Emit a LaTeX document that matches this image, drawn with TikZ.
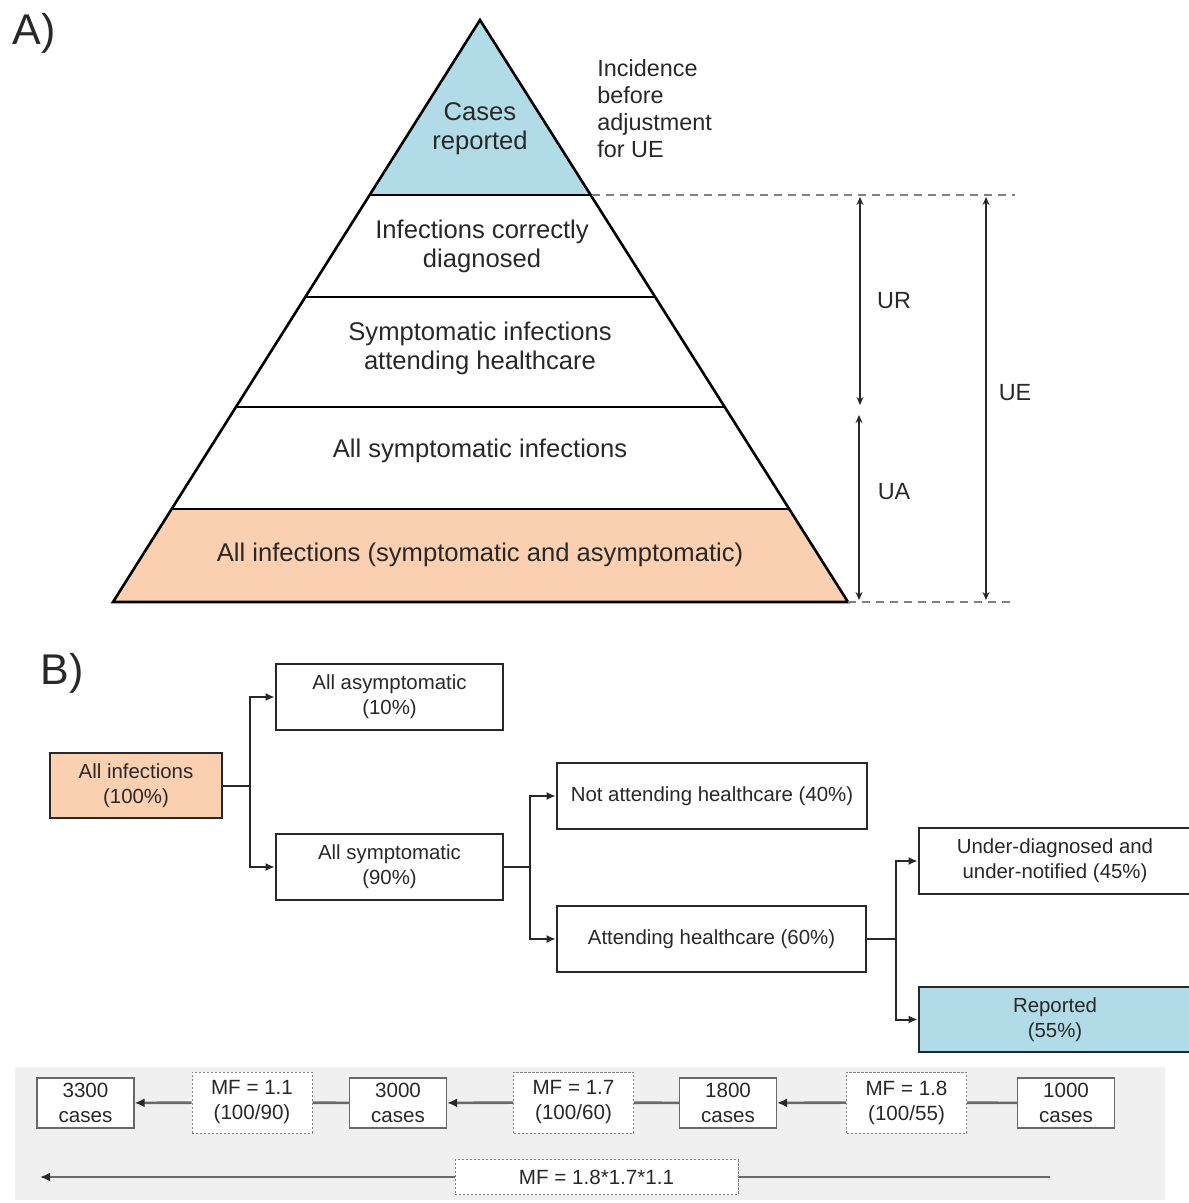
\documentclass[tikz,border=0pt]{standalone}
\usepackage{fontspec}
\setmainfont{Liberation Sans}
\usetikzlibrary{arrows.meta}
\definecolor{pblue}{RGB}{178,219,232}
\definecolor{peach}{RGB}{250,208,176}
\definecolor{txt}{RGB}{40,40,40}
\definecolor{stripbg}{RGB}{240,240,240}
\definecolor{lgray}{RGB}{105,105,105}
\begin{document}
\begin{tikzpicture}[x=0.5pt,y=-0.5pt,
  every node/.style={text=txt, inner sep=0pt},
  pyrtext/.style={font=\fontsize{12.8}{14.5}\selectfont, align=center},
  sidetext/.style={font=\fontsize{11.7}{13.5}\selectfont, align=left, anchor=north west},
  panel/.style={font=\fontsize{21.5}{24}\selectfont},
  dimarrow/.style={draw=txt, line width=0.7pt, {Stealth[length=4pt,width=3.5pt]}-{Stealth[length=4pt,width=3.5pt]}},
  guide/.style={draw=gray, line width=0.8pt, dash pattern=on 4pt off 3pt},
  bbox/.style={draw=txt, line width=1.3pt, fill=white, align=center, font=\fontsize{10.2}{12.5}\selectfont},
  conn/.style={draw=txt, line width=1pt},
  tip/.style={-{Latex[length=4.5pt,width=4pt]}},
  casebox/.style={draw=lgray, line width=0.6pt, fill=white, align=center, font=\fontsize{10.3}{12.5}\selectfont, minimum width=48.5pt, minimum height=25pt},
  mfbox/.style={draw=gray, line width=0.5pt, dash pattern=on 1.2pt off 0.8pt, fill=white, align=center, font=\fontsize{10.3}{12.5}\selectfont},
  sline/.style={draw=lgray, line width=1.3pt},
  stip/.style={-{Latex[length=5pt,width=4.5pt,color=txt]}}
]
\useasboundingbox (0,0) rectangle (1188,1203);

% ---------------- Part A: pyramid ----------------
\node[panel] (labA) at (34,33) {A)};
\fill[pblue] (480,20) -- (590.6,195) -- (369.6,195) -- cycle;
\fill[peach] (171.6,509) -- (789.2,509) -- (848,602) -- (113,602) -- cycle;
\draw[line width=1.3pt, line join=miter] (480,20) -- (848,602) -- (113,602) -- cycle;
\draw[line width=1.3pt] (369.6,195) -- (590.6,195);
\draw[line width=1.3pt] (305.3,297) -- (655.1,297);
\draw[line width=1.3pt] (236.0,407) -- (724.7,407);
\draw[line width=1.3pt] (171.6,509) -- (789.2,509);

\node[pyrtext] (lev1) at (480,129) {Cases\\reported};
\node[pyrtext] (lev2) at (482,246) {Infections correctly\\diagnosed};
\node[pyrtext] (lev3) at (480,348) {Symptomatic infections\\attending healthcare};
\node[pyrtext] (lev4) at (480,451) {All symptomatic infections};
\node[pyrtext] (lev5) at (480,555) {All infections (symptomatic and asymptomatic)};

\node[sidetext] (inc) at (597,59) {Incidence\\before\\adjustment\\for UE};

\draw[guide] (592,195) -- (1015,195);
\draw[guide] (848,602) -- (1015,602);

\coordinate (urTop) at (860,197);
\coordinate (urBot) at (860,405);
\coordinate (uaTop) at (859,415);
\coordinate (uaBot) at (859,600);
\coordinate (ueTop) at (986,197);
\coordinate (ueBot) at (986,600);
\draw[dimarrow] (urTop) -- (urBot);
\draw[dimarrow] (uaTop) -- (uaBot);
\draw[dimarrow] (ueTop) -- (ueBot);
\node[font=\fontsize{11.7}{13.5}\selectfont] (ur) at (894,301) {UR};
\node[font=\fontsize{11.7}{13.5}\selectfont] (ua) at (894,492) {UA};
\node[font=\fontsize{11.7}{13.5}\selectfont] (ue) at (1015,393) {UE};

% ---------------- Part B: tree ----------------
\node[panel] (labB) at (62,673) {B)};
\node[bbox, fill=peach, minimum width=86pt, minimum height=32.5pt] (inf) at (136,785.5) {All infections\\(100\%)};
\node[bbox, minimum width=113.5pt, minimum height=33pt] (asym) at (389.5,697) {All asymptomatic\\(10\%)};
\node[bbox, minimum width=113.5pt, minimum height=33pt] (sym) at (389.5,867) {All symptomatic\\(90\%)};
\node[bbox, minimum width=155pt, minimum height=33pt] (notatt) at (712,796) {Not attending healthcare (40\%)};
\node[bbox, minimum width=154.5pt, minimum height=33pt] (att) at (711.5,939) {Attending healthcare (60\%)};
\node[bbox, minimum width=136pt, minimum height=33pt] (under) at (1055,861) {Under-diagnosed and\\under-notified (45\%)};
\node[bbox, fill=pblue, minimum width=136pt, minimum height=32.5pt] (rep) at (1055,1019.5) {Reported\\(55\%)};

\coordinate (j1) at (250,785.5);
\coordinate (j2) at (530,867);
\coordinate (j3) at (896,939);
\draw[conn] (inf.east) -- (j1);
\draw[conn, tip] (j1) |- (asym.west);
\draw[conn, tip] (j1) |- (sym.west);
\draw[conn] (sym.east) -- (j2);
\draw[conn, tip] (j2) |- (notatt.west);
\draw[conn, tip] (j2) |- (att.west);
\draw[conn] (att.east) -- (j3);
\draw[conn, tip] (j3) |- (under.west);
\draw[conn, tip] (j3) |- (rep.west);

% ---------------- Bottom strip ----------------
\fill[stripbg] (15,1067) rectangle (1165,1200);
\node[casebox] (c3300) at (85.5,1103) {3300\\cases};
\node[casebox] (c3000) at (398,1103) {3000\\cases};
\node[casebox] (c1800) at (728,1103) {1800\\cases};
\node[casebox] (c1000) at (1066,1103) {1000\\cases};
\node[mfbox, minimum width=60pt, minimum height=30.5pt] (mf11) at (252,1102.5) {MF = 1.1\\(100/90)};
\node[mfbox, minimum width=60pt, minimum height=30.5pt] (mf17) at (573.5,1102.5) {MF = 1.7\\(100/60)};
\node[mfbox, minimum width=60pt, minimum height=30.5pt] (mf18) at (906.5,1102.5) {MF = 1.8\\(100/55)};
\draw[sline] (c1000) -- (mf18);
\draw[sline, stip] (mf18) -- (c1800);
\draw[sline] (c1800) -- (mf17);
\draw[sline, stip] (mf17) -- (c3000);
\draw[sline] (c3000) -- (mf11);
\draw[sline, stip] (mf11) -- (c3300);

\coordinate (bs) at (1050,1177);
\coordinate (be) at (40,1177);
\draw[sline, stip] (bs) -- (be);
\node[mfbox, minimum width=141.5pt, minimum height=17.5pt] (mftot) at (596.5,1177) {MF = 1.8*1.7*1.1};
\end{tikzpicture}
\end{document}
